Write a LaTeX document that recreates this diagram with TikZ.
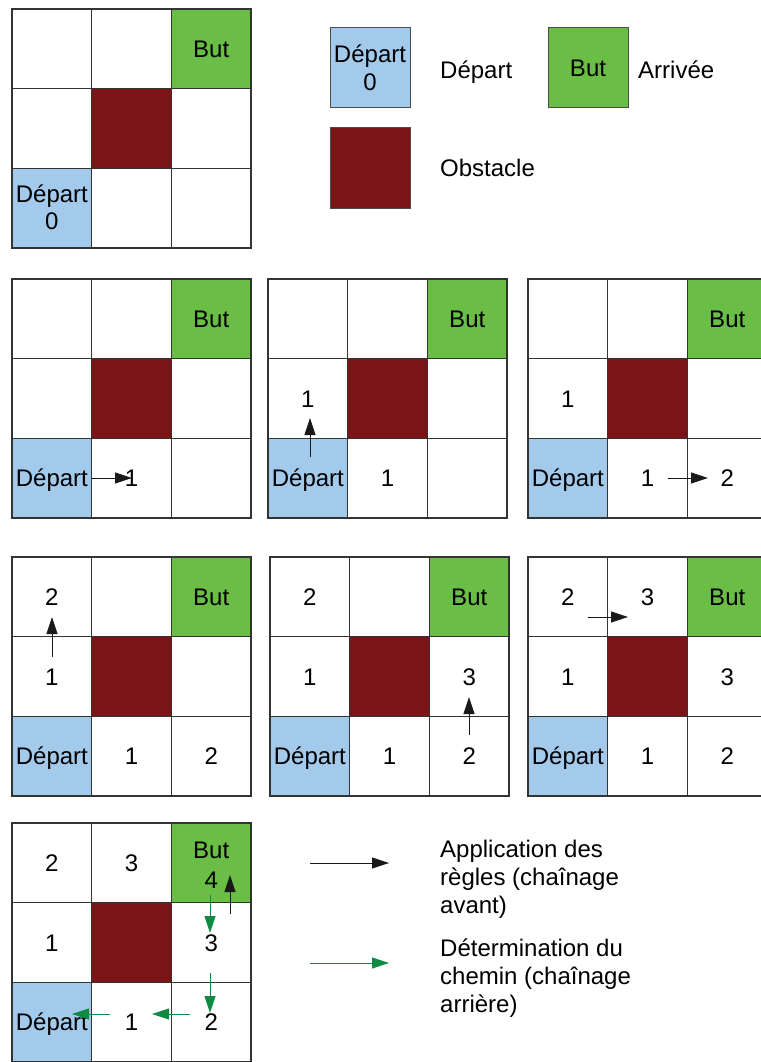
\documentclass[tikz,border=0pt]{standalone}
\usepackage{fontspec}
\setmainfont{Liberation Sans}
\usetikzlibrary{arrows.meta}

\definecolor{bleudep}{RGB}{163,201,235}
\definecolor{vertbut}{RGB}{106,189,69}
\definecolor{rougeobs}{RGB}{123,20,22}
\definecolor{vertchemin}{RGB}{16,138,66}

% une grille 3x3 : coin haut gauche (#1,#2), nom #3
\newcommand{\grille}[3]{%
  \begin{scope}[shift={(#1,#2)}]
    \fill[bleudep] (0,159.4) rectangle (79.7,239.1);
    \fill[vertbut] (159.4,0) rectangle (239.1,79.7);
    \fill[rougeobs] (79.7,79.7) rectangle (159.4,159.4);
    \foreach \k in {0,1,2,3} {
      \draw[trait] (\k*79.7,0) -- (\k*79.7,239.1);
      \draw[trait] (0,\k*79.7) -- (239.1,\k*79.7);
    }
    \foreach \r in {1,2,3}
      \foreach \c in {1,2,3}
        \coordinate (#3-\r\c) at ({(\c-0.5)*79.7},{(\r-0.5)*79.7});
  \end{scope}}

\begin{document}
\begin{tikzpicture}[x=1pt, y=-1pt, >={Triangle[length=17pt,width=11pt]},
    trait/.style={line width=1.3pt, black!80, line cap=rect},
    case/.style={font=\fontsize{24}{28}\selectfont, inner sep=0pt, anchor=base, yshift=-8.6pt},
    legende/.style={font=\fontsize{24}{28}\selectfont, inner sep=0pt, align=left},
    boite/.style={draw=black!70, line width=1pt, minimum size=80pt, inner sep=0pt},
    regle/.style={->, line width=0.8pt, black!90},
    chemin/.style={->, line width=0.8pt, vertchemin}]
    \useasboundingbox (0,0) rectangle (760,1062);

    % grille de depart
    \grille{12}{9}{g1}
    \node[case, yshift=14pt] (n1-31) at (g1-31) {Départ};
    \node[case, yshift=-13pt] (n1-31b) at (g1-31) {0};
    \node[case] (n1-13) at (g1-13) {But};

    % legende
    \node[boite, fill=bleudep] (legdep) at (370,68) {};
    \node[case, yshift=14pt] (legdep-t) at (legdep) {Départ};
    \node[case, yshift=-14pt] (legdep-z) at (legdep) {0};
    \node[case, anchor=base west] (legdep-l) at (440,70) {Départ};
    \node[boite, fill=vertbut] (legbut) at (588,68) {};
    \node[case] (legbut-t) at (legbut) {But};
    \node[case, anchor=base west] (legbut-l) at (638,70) {Arrivée};
    \node[boite, fill=rougeobs] (legobs) at (370,168) {};
    \node[case, anchor=base west] (legobs-l) at (440,168) {Obstacle};

    % etape 1
    \grille{12}{279}{g2a}
    \node[case] (n2a-13) at (g2a-13) {But};
    \node[case] (n2a-31) at (g2a-31) {Départ};
    \node[case] (n2a-32) at (g2a-32) {1};
    \coordinate (r2a-s) at (92,478);
    \coordinate (r2a-e) at (132,478);
    \draw[regle] (r2a-s) -- (r2a-e);

    % etape 2
    \grille{268}{279}{g2b}
    \node[case] (n2b-13) at (g2b-13) {But};
    \node[case] (n2b-21) at (g2b-21) {1};
    \node[case] (n2b-31) at (g2b-31) {Départ};
    \node[case] (n2b-32) at (g2b-32) {1};
    \coordinate (r2b-s) at (310,457);
    \coordinate (r2b-e) at (310,418);
    \draw[regle] (r2b-s) -- (r2b-e);

    % etape 3
    \grille{528}{279}{g2c}
    \node[case] (n2c-13) at (g2c-13) {But};
    \node[case] (n2c-21) at (g2c-21) {1};
    \node[case] (n2c-31) at (g2c-31) {Départ};
    \node[case] (n2c-32) at (g2c-32) {1};
    \node[case] (n2c-33) at (g2c-33) {2};
    \coordinate (r2c-s) at (668,478);
    \coordinate (r2c-e) at (708,478);
    \draw[regle] (r2c-s) -- (r2c-e);

    % etape 4
    \grille{12}{557}{g3a}
    \node[case] (n3a-11) at (g3a-11) {2};
    \node[case] (n3a-13) at (g3a-13) {But};
    \node[case] (n3a-21) at (g3a-21) {1};
    \node[case] (n3a-31) at (g3a-31) {Départ};
    \node[case] (n3a-32) at (g3a-32) {1};
    \node[case] (n3a-33) at (g3a-33) {2};
    \coordinate (r3a-s) at (52,657);
    \coordinate (r3a-e) at (52,617);
    \draw[regle] (r3a-s) -- (r3a-e);

    % etape 5
    \grille{270}{557}{g3b}
    \node[case] (n3b-11) at (g3b-11) {2};
    \node[case] (n3b-13) at (g3b-13) {But};
    \node[case] (n3b-21) at (g3b-21) {1};
    \node[case] (n3b-23) at (g3b-23) {3};
    \node[case] (n3b-31) at (g3b-31) {Départ};
    \node[case] (n3b-32) at (g3b-32) {1};
    \node[case] (n3b-33) at (g3b-33) {2};
    \coordinate (r3b-s) at (469,735);
    \coordinate (r3b-e) at (469,697);
    \draw[regle] (r3b-s) -- (r3b-e);

    % etape 6
    \grille{528}{557}{g3c}
    \node[case] (n3c-11) at (g3c-11) {2};
    \node[case] (n3c-12) at (g3c-12) {3};
    \node[case] (n3c-13) at (g3c-13) {But};
    \node[case] (n3c-21) at (g3c-21) {1};
    \node[case] (n3c-23) at (g3c-23) {3};
    \node[case] (n3c-31) at (g3c-31) {Départ};
    \node[case] (n3c-32) at (g3c-32) {1};
    \node[case] (n3c-33) at (g3c-33) {2};
    \coordinate (r3c-s) at (588,617);
    \coordinate (r3c-e) at (628,617);
    \draw[regle] (r3c-s) -- (r3c-e);

    % etape finale et chemin
    \grille{12}{823}{g4}
    \node[case] (n4-11) at (g4-11) {2};
    \node[case] (n4-12) at (g4-12) {3};
    \node[case, yshift=13pt] (n4-13) at (g4-13) {But};
    \node[case, yshift=-17pt] (n4-13b) at (g4-13) {4};
    \node[case] (n4-21) at (g4-21) {1};
    \node[case] (n4-23) at (g4-23) {3};
    \node[case] (n4-31) at (g4-31) {Départ};
    \node[case] (n4-32) at (g4-32) {1};
    \node[case] (n4-33) at (g4-33) {2};
    \coordinate (r4-s) at (230,914);
    \coordinate (r4-e) at (230,875);
    \draw[regle] (r4-s) -- (r4-e);
    \coordinate (c1-s) at (210,895);
    \coordinate (c1-e) at (210,933);
    \coordinate (c2-s) at (210,973);
    \coordinate (c2-e) at (210,1013);
    \coordinate (c3-s) at (190,1014);
    \coordinate (c3-e) at (152,1014);
    \coordinate (c4-s) at (110,1014);
    \coordinate (c4-e) at (72,1014);
    \draw[chemin] (c1-s) -- (c1-e);
    \draw[chemin] (c2-s) -- (c2-e);
    \draw[chemin] (c3-s) -- (c3-e);
    \draw[chemin] (c4-s) -- (c4-e);

    % legende des fleches
    \coordinate (lr-s) at (310,863);
    \coordinate (lr-e) at (389,863);
    \draw[regle] (lr-s) -- (lr-e);
    \node[legende, anchor=north west] (txtregle) at (440,839.4) {Application des\\règles (chaînage\\avant)};
    \coordinate (lc-s) at (310,963);
    \coordinate (lc-e) at (389,963);
    \draw[chemin] (lc-s) -- (lc-e);
    \node[legende, anchor=north west] (txtchemin) at (440,938.8) {Détermination du\\chemin (chaînage\\arrière)};
  \end{tikzpicture}
\end{document}
